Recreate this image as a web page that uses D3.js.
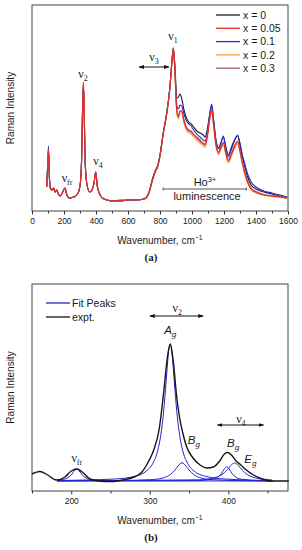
<!DOCTYPE html>
<html>
<head>
<meta charset="utf-8">
<script src="https://cdn.jsdelivr.net/npm/d3@7"></script>
<style>
  body { margin: 0; background: #fff; }
  text { font-family: Arial, "Liberation Sans", sans-serif; fill: #1a1a1a; }
</style>
</head>
<body>
<svg id="root"></svg>
<script>
// ---- panel (a): Raman spectra, wavenumber grid shared by all series ----
const wavenumbers = [92,100,103,108,115,125,135,145,155,165,178,192,206,218,235,260,285,300,310,316,
  321,326,332,342,360,375,388,398,408,420,440,470,500,550,600,650,700,730,755,770,
  785,800,820,840,862,875,883,893,905,915,925,935,950,965,980,995,1010,1030,1050,1070,
  1082,1095,1110,1123,1135,1150,1167,1180,1196,1210,1227,1245,1265,1285,1300,1315,1332,1350,1370,1400,
  1450,1500,1550,1595];

const intensityX0 = [24,51,61,36,23,21,23,19,21,17, 15,19,23,16,13,14,17,25,51,101,
  126,101,51,28,19,21,28,39,25,18, 13,11,10,10,11,11,12,18,33,40,
  45,56,78,96,124,151,163,146,113,114, 117,113,101,93,89,87,84,80,78,76,
  74,81,96,105,91,71,63,68,74,65, 56,63,71,75,66,54,43,33,26,22,
  19,17,15,13];
const intensityX005 = [24,51,61,36,23,21,23,19,21,17, 15,19,23,16,13,14,17,25,52,103,
  129,103,52,28,19,21,28,39,25,18, 13,11,10,10,11,11,12,18,32,39,
  44,55,77,95,123,150,163,140,100,94, 100,100,90,83,80,79,76,73,70,67,
  66,74,91,101,86,66,58,63,68,59, 50,56,64,69,60,48,37,28,22,19,
  16,15,14,13];
const intensityX01 = [25,54,65,37,23,21,23,19,21,17, 15,19,23,16,13,14,17,25,51,101,
  126,101,51,28,19,21,28,39,25,18, 13,11,10,11,11,11,12,18,33,40,
  45,56,78,96,124,150,162,143,106,102, 106,105,97,90,87,85,81,77,74,71,
  70,78,96,107,91,70,62,67,75,64, 54,61,70,76,68,56,46,36,29,24,
  20,18,16,14];
const intensityX02 = [24,51,60,36,23,21,23,19,21,17, 15,19,23,16,13,14,17,25,51,102,
  127,102,51,28,19,21,28,39,25,18, 13,11,10,10,11,11,12,17,32,39,
  44,55,77,95,123,149,162,139,98,92, 98,98,88,81,78,77,74,71,68,65,
  64,72,90,100,84,64,56,61,66,57, 48,54,62,67,58,46,35,27,21,18,
  15.5,14.5,13.5,12.5];
const intensityX03 = [24,52,62,36,23,21,23,19,21,17, 15,19,23,16,13,14,17,25,51,102,
  128,102,51,28,19,21,28,39,25,18, 13,11,10,10,11,11,12,18,32,39,
  44,55,77,95,123,150,163,141,101,95, 100,100,91,84,81,80,77,74,71,68,
  67,75,92,102,87,67,59,64,69,60, 51,57,65,70,61,49,38,29,23,19.5,
  16.5,15.5,14.5,13];

const seriesNames = ["x = 0", "x = 0.05", "x = 0.1", "x = 0.2", "x = 0.3"];
const seriesColors = ["#1e1e1e", "#e62a2a", "#2a2ad6", "#f6a23c", "#a06868"];
const drawOrder = [0, 3, 2, 4, 1];
const ticksA = [0, 200, 400, 600, 800, 1000, 1200, 1400, 1600];
const minorTicksA = [100, 300, 500, 700, 900, 1100, 1300, 1500];

// ---- panel (b): experimental spectrum and fitted peaks ----
const exptWn = [150,160,170,181,192,200,207,214,224,235,250,265,280,290,298,305,312,318,322,326,
  330,334,338,342,347,355,364,373,381,389,395,399,404,410,416,423,432,440,453,465,477];
const exptIntensity = [17,19.5,16,11,14,20,22,19,12,10,9.5,11,14,19,29,41,62,101,131,147,
  129,96,73,58,44,33,26,23,24,30,37,38.5,36,30,26,21,16,13,10,10,10];

const fitNuFr = [[182,11],[187,11.3],[195,13],[200,16],[204,20.2],[207,22],[210,20.2],[214,16],[219,13],[227,11.3],[247,10.3],[300,10.1],[456,10]];
const fitAg = [[182,10.5],[256,12],[281,14.7],[296,20.2],[304,27.8],[310,40.2],[314,55.8],[317,74.6],[320,101.5],[322,122],[324,140],[326,147],
  [328,140],[330,122],[332,101.5],[335,74.6],[338,55.8],[342,40.2],[348,27.8],[356,20.2],[371,14.7],[396,12],[456,10.4]];
const fitBg1 = [[182,10.1],[261,10.4],[301,11.3],[316,12.9],[326,16.4],[331,20],[336,25],[341,28.3],[346,25],[351,20],[356,16.4],[366,12.9],[381,11.3],[421,10.3],[456,10.1]];
const fitBg2 = [[182,10],[358,10.4],[378,11.6],[386,13.6],[391,17.2],[395,22.1],[398,24.3],[401,22.1],[405,17.2],[410,13.6],[418,11.6],[438,10.4],[456,10.2]];
const fitEg = [[182,10.2],[363,11.2],[383,13.4],[392,16.5],[398,20.6],[403,25.4],[408,28],[413,25.4],[418,20.6],[424,16.5],[433,13.4],[453,11.2],[456,11]];
const ticksB = [200, 300, 400];
const minorTicksB = [150, 250, 350, 450];

class RamanFigure {
  width = 302;
  height = 550;
  svg = null;

  init() {
    this.svg = d3.select("#root").attr("width", this.width).attr("height", this.height);
    this.svg.append("rect").attr("width", this.width).attr("height", this.height).attr("fill", "#fff");

    const defs = this.svg.append("defs");
    defs.append("marker")
      .attr("id", "arrow")
      .attr("viewBox", "0 0 10 10")
      .attr("refX", 9).attr("refY", 5)
      .attr("markerWidth", 5.5).attr("markerHeight", 5.5)
      .attr("orient", "auto-start-reverse")
      .append("path").attr("d", "M0,1.5L10,5L0,8.5Z").attr("fill", "#111");

    this.drawPanelA();
    this.drawPanelB();
  }

  // frame, ticks, labels shared by both panels
  drawFrame = (x, y, ticks, minor, tag) => {
    const [x0, x1] = x.range();
    const [yb, yt] = y.range();
    const g = this.svg.append("g");

    g.append("g")
      .attr("transform", `translate(0,${yb})`)
      .call(d3.axisBottom(x).tickValues(minor).tickSize(2.5).tickSizeOuter(0).tickFormat(""))
      .call((a) => a.select(".domain").remove());
    const major = g.append("g")
      .attr("transform", `translate(0,${yb})`)
      .call(d3.axisBottom(x).tickValues(ticks).tickSize(3.5).tickSizeOuter(0).tickPadding(3).tickFormat(d3.format("d")));
    major.select(".domain").remove();
    major.selectAll("text").style("font-size", "8.5px").attr("fill", "#222");
    g.selectAll(".tick line").attr("stroke", "#333");

    g.append("rect")
      .attr("x", x0).attr("y", yt)
      .attr("width", x1 - x0).attr("height", yb - yt)
      .attr("fill", "none").attr("stroke", "#444").attr("stroke-width", 1);

    const xl = g.append("text")
      .attr("x", (x0 + x1) / 2).attr("y", yb + 33)
      .attr("text-anchor", "middle").style("font-size", "10px");
    xl.append("tspan").text("Wavenumber, cm");
    xl.append("tspan").attr("dy", -4).style("font-size", "7px").text("\u22121");

    g.append("text")
      .attr("transform", `translate(14,${(yb + yt) / 2}) rotate(-90)`)
      .attr("text-anchor", "middle").style("font-size", "10px")
      .text("Raman Intensity");

    g.append("text")
      .attr("x", 151).attr("y", yb + 50)
      .attr("text-anchor", "middle")
      .style("font-family", "'Liberation Serif', serif")
      .style("font-weight", "bold").style("font-size", "11px")
      .text(tag);
    return g;
  };

  nuLabel = (g, px, py, sub) => {
    const t = g.append("text").attr("x", px).attr("y", py).attr("text-anchor", "middle")
      .style("font-family", "'Liberation Serif', 'DejaVu Serif', serif").style("font-size", "12px");
    t.append("tspan").text("\u03bd");
    t.append("tspan").attr("dy", 3).style("font-size", "8px").text(sub);
  };

  italicLabel = (g, px, py, main, sub) => {
    const t = g.append("text").attr("x", px).attr("y", py).attr("text-anchor", "middle")
      .style("font-style", "italic").style("font-size", "11.5px");
    t.append("tspan").text(main);
    t.append("tspan").attr("dy", 3).style("font-size", "8px").text(sub);
  };

  arrow = (g, x1, x2, py) => {
    g.append("line")
      .attr("x1", x1).attr("x2", x2).attr("y1", py).attr("y2", py)
      .attr("stroke", "#111").attr("stroke-width", 1)
      .attr("marker-start", "url(#arrow)").attr("marker-end", "url(#arrow)");
  };

  drawPanelA = () => {
    const x = d3.scaleLinear().domain([0, 1600]).range([32, 288]);
    const y = d3.scaleLinear().domain([0, 206]).range([211, 5]);
    const g = this.drawFrame(x, y, ticksA, minorTicksA, "(a)");

    const series = [intensityX0, intensityX005, intensityX01, intensityX02, intensityX03];
    const line = d3.line()
      .x((d) => x(d[0]))
      .y((d) => y(d[1]))
      .curve(d3.curveMonotoneX);

    drawOrder.forEach((i) => {
      const pts = wavenumbers.map((w, k) => [w, series[i][k]]);
      g.append("path")
        .datum(pts)
        .attr("d", line)
        .attr("fill", "none")
        .attr("stroke", seriesColors[i])
        .attr("stroke-width", 1.1)
        .attr("stroke-linejoin", "round");
    });

    // legend
    const legend = g.append("g");
    seriesNames.forEach((name, i) => {
      const cy = 15 + i * 13.3;
      legend.append("line")
        .attr("x1", 216).attr("x2", 240).attr("y1", cy).attr("y2", cy)
        .attr("stroke", seriesColors[i]).attr("stroke-width", 1.3);
      legend.append("text")
        .attr("x", 243).attr("y", cy + 3.7)
        .style("font-size", "10.5px")
        .text(name);
    });

    // annotations
    this.nuLabel(g, x(881), y(171), "1");
    this.nuLabel(g, x(762), y(150), "3");
    this.arrow(g, x(669), x(856), y(144));
    this.nuLabel(g, x(319), y(133), "2");
    this.nuLabel(g, x(219), y(29), "fr");
    this.nuLabel(g, x(412), y(46), "4");

    const ho = g.append("text").attr("x", x(1081)).attr("y", y(25))
      .attr("text-anchor", "middle").style("font-size", "11px");
    ho.append("tspan").text("Ho");
    ho.append("tspan").attr("dy", -4).style("font-size", "7.5px").text("3+");
    g.append("line")
      .attr("x1", x(820)).attr("x2", x(1340)).attr("y1", y(22)).attr("y2", y(22))
      .attr("stroke", "#555").attr("stroke-width", 1);
    [820, 1340].forEach((w) => {
      g.append("line")
        .attr("x1", x(w)).attr("x2", x(w)).attr("y1", y(22) - 1.5).attr("y2", y(22) + 1.5)
        .attr("stroke", "#555").attr("stroke-width", 1);
    });
    g.append("text").attr("x", x(1094)).attr("y", y(11))
      .attr("text-anchor", "middle").style("font-size", "11px")
      .text("luminescence");
  };

  drawPanelB = () => {
    const x = d3.scaleLinear().domain([150, 476]).range([32, 288]);
    const y = d3.scaleLinear().domain([0, 207]).range([491, 284]);
    const g = this.drawFrame(x, y, ticksB, minorTicksB, "(b)");

    const line = d3.line()
      .x((d) => x(d[0]))
      .y((d) => y(d[1]))
      .curve(d3.curveMonotoneX);

    const fits = [fitNuFr, fitAg, fitBg1, fitBg2, fitEg];
    fits.forEach((f) => {
      g.append("path")
        .datum(f)
        .attr("d", line)
        .attr("fill", "none")
        .attr("stroke", "#2424d2")
        .attr("stroke-width", 1);
    });

    g.append("path")
      .datum(exptWn.map((w, k) => [w, exptIntensity[k]]))
      .attr("d", line)
      .attr("fill", "none")
      .attr("stroke", "#151515")
      .attr("stroke-width", 1.4);

    // legend
    const items = [["Fit Peaks", "#2424d2"], ["expt.", "#151515"]];
    items.forEach(([name, color], i) => {
      const cy = 303 + i * 14;
      g.append("line")
        .attr("x1", 46).attr("x2", 70).attr("y1", cy).attr("y2", cy)
        .attr("stroke", color).attr("stroke-width", 1.3);
      g.append("text")
        .attr("x", 72).attr("y", cy + 3.7)
        .style("font-size", "10.5px")
        .text(name);
    });

    // annotations
    this.nuLabel(g, x(335), y(179), "2");
    this.arrow(g, x(300), x(368), y(175));
    this.italicLabel(g, x(326), y(157), "A", "g");
    this.nuLabel(g, x(207), y(29), "fr");
    this.italicLabel(g, x(356), y(47), "B", "g");
    this.italicLabel(g, x(406), y(44), "B", "g");
    this.italicLabel(g, x(428), y(28), "E", "g");
    this.nuLabel(g, x(416), y(68), "4");
    this.arrow(g, x(386), x(445), y(66));
  };
}

function main() {
  const fig = new RamanFigure();
  fig.init();
}

main();
</script>
</body>
</html>
